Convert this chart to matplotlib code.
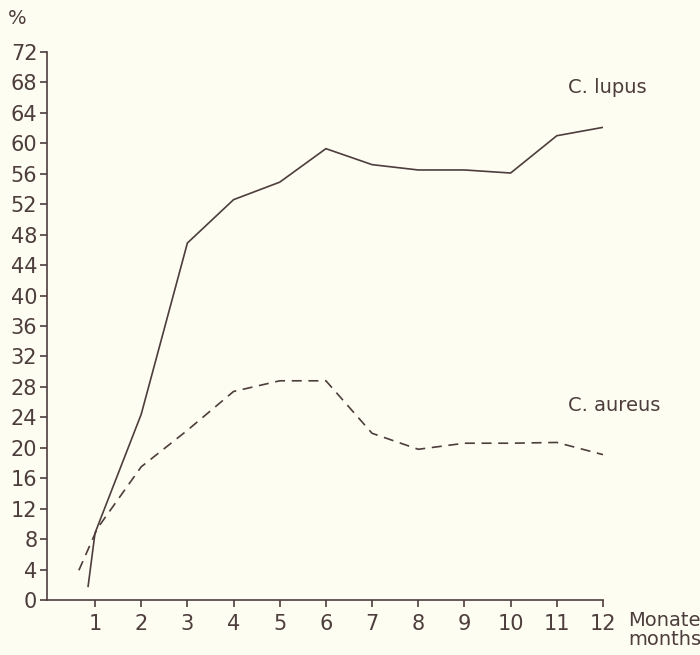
import matplotlib
matplotlib.use("Agg")
import matplotlib.pyplot as plt

# Data
lupus_x = [0.85, 1, 2, 3, 4, 5, 6, 7, 8, 9, 10, 11, 12]
lupus_y = [1.8, 8.8, 24.4, 46.9, 52.6, 54.9, 59.3, 57.2, 56.5, 56.5, 56.1, 61.0, 62.1]
aureus_x = [0.65, 1.05, 2, 3, 4, 5, 6, 7, 8, 9, 10, 11, 12]
aureus_y = [3.9, 9.4, 17.5, 22.3, 27.4, 28.8, 28.8, 21.9, 19.8, 20.6, 20.6, 20.7, 19.1]
x_ticks = list(range(1, 13))
y_ticks = list(range(0, 73, 4))

ink = "#4d3d3d"
bg = "#fdfdf1"
plt.rcParams['font.family'] = ['DejaVu Sans']

fig = plt.figure(figsize=(7.0, 6.55), dpi=100, facecolor=bg)
ax = fig.add_axes([47/700, 55/655, (603-47)/700, (600-52)/655])
ax.set_facecolor(bg)

ax.plot(lupus_x, lupus_y, color=ink, lw=1.2, solid_joinstyle='miter')
ax.plot(aureus_x, aureus_y, color=ink, lw=1.2, linestyle=(0, (6, 4)))

ax.set_xlim(-0.04, 12)
ax.set_ylim(0, 72)
ax.set_xticks(x_ticks)
ax.set_yticks(y_ticks)
for s in ['top', 'right']:
    ax.spines[s].set_visible(False)
for s in ['left', 'bottom']:
    ax.spines[s].set_color(ink)
    ax.spines[s].set_linewidth(1.2)
ax.tick_params(axis='both', direction='out', length=5, width=1.2, color=ink,
               labelcolor=ink, labelsize=15)
ax.tick_params(axis='y', pad=2)
ax.tick_params(axis='x', pad=5)

ax.text(11.24, 67.4, "C. lupus", color=ink, fontsize=14, va='center', ha='left')
ax.text(11.24, 25.6, "C. aureus", color=ink, fontsize=14, va='center', ha='left')
fig.text(8/700, 1 - 18/655, "%", color=ink, fontsize=14, va='center', ha='left')
fig.text(628/700, 1 - 630/655, "Monate\nmonths", color=ink, fontsize=14,
         va='center', ha='left', linespacing=0.95)

fig.savefig("out.png", dpi=100, facecolor=bg)
